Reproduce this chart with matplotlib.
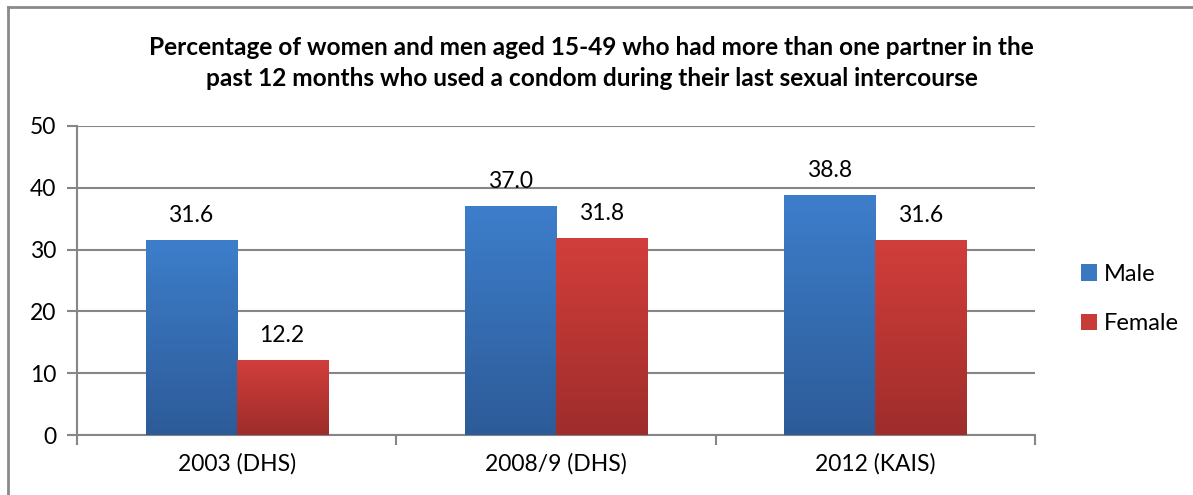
import numpy as np
import matplotlib
matplotlib.use("Agg")
import matplotlib.pyplot as plt
from matplotlib.patches import Patch
from matplotlib.lines import Line2D
from matplotlib.colors import LinearSegmentedColormap

categories = ["2003 (DHS)", "2008/9 (DHS)", "2012 (KAIS)"]
male = [31.6, 37.0, 38.8]
female = [12.2, 31.8, 31.6]
series_names = ["Male", "Female"]
title = ("Percentage of women and men aged 15-49 who had more than one partner in the\n"
         "past 12 months who used a condom during their last sexual intercourse")

plt.rcParams['font.family'] = ['Lato', 'DejaVu Sans']

fig = plt.figure(figsize=(11.93, 4.95), dpi=100)
ax = fig.add_axes([0.0645, 0.1212, 0.8031, 0.6243])

x = np.arange(len(categories))
w = 0.285
grey = "#868686"

# gradients top -> bottom
blue_cm = LinearSegmentedColormap.from_list("b", ["#2d5b98", "#3d7ecb"])
red_cm = LinearSegmentedColormap.from_list("r", ["#9e2d2b", "#d23e3b"])
grad = np.linspace(0, 1, 256).reshape(-1, 1)

for vals, off, cm, face in [(male, -w / 2, blue_cm, "#3a78c2"), (female, w / 2, red_cm, "#c93b38")]:
    bars = ax.bar(x + off, vals, width=w, color=face, zorder=2)
    for b, v in zip(bars, vals):
        im = ax.imshow(grad, cmap=cm, origin="lower", aspect="auto", zorder=3,
                       extent=[b.get_x(), b.get_x() + b.get_width(), 0, v])
        im.set_clip_path(b)
        ax.annotate(f"{v:.1f}", (b.get_x() + b.get_width() / 2, v),
                    xytext=(0, 13), textcoords="offset points",
                    ha="center", va="baseline", fontsize=16.5, color="black", zorder=4)

ax.set_xlim(-0.5, 2.5)
ax.set_ylim(0, 50)
ax.set_yticks(range(0, 51, 10))
ax.set_xticks([-0.5, 0.5, 1.5, 2.5], minor=True)
ax.set_xticks(x)
ax.set_xticklabels(categories, fontsize=16.5)
ax.tick_params(axis="x", which="major", length=0, pad=13)
ax.tick_params(axis="x", which="minor", length=7, width=1.5, color=grey)
ax.tick_params(axis="y", length=7, width=1.5, color=grey, labelsize=16.5, pad=8)
ax.yaxis.grid(True, color=grey, linewidth=1.5, zorder=0)
ax.set_axisbelow(True)
for s in ["top", "right"]:
    ax.spines[s].set_visible(False)
for s in ["left", "bottom"]:
    ax.spines[s].set_color(grey)
    ax.spines[s].set_linewidth(1.5)

fig.text(0.496, 0.873, title, ha="center", va="center", fontsize=17.6,
         fontweight="bold", linespacing=1.4)

handles = [Patch(facecolor="#3a78c2"), Patch(facecolor="#c93b38")]
fig.legend(handles, series_names, loc="center left", bbox_to_anchor=(0.888, 0.396),
           frameon=False, fontsize=17, handlelength=0.7, handleheight=0.7,
           handletextpad=0.3, labelspacing=1.2)

# outer chart frame (left and top edges visible)
fig.add_artist(Line2D([8 / 1193, 8 / 1193], [0, 1 - 7 / 495], transform=fig.transFigure,
                      color="#8a8a8a", linewidth=2))
fig.add_artist(Line2D([8 / 1193, 1], [1 - 7 / 495, 1 - 7 / 495], transform=fig.transFigure,
                      color="#8a8a8a", linewidth=2))

fig.savefig("out.png", dpi=100)
